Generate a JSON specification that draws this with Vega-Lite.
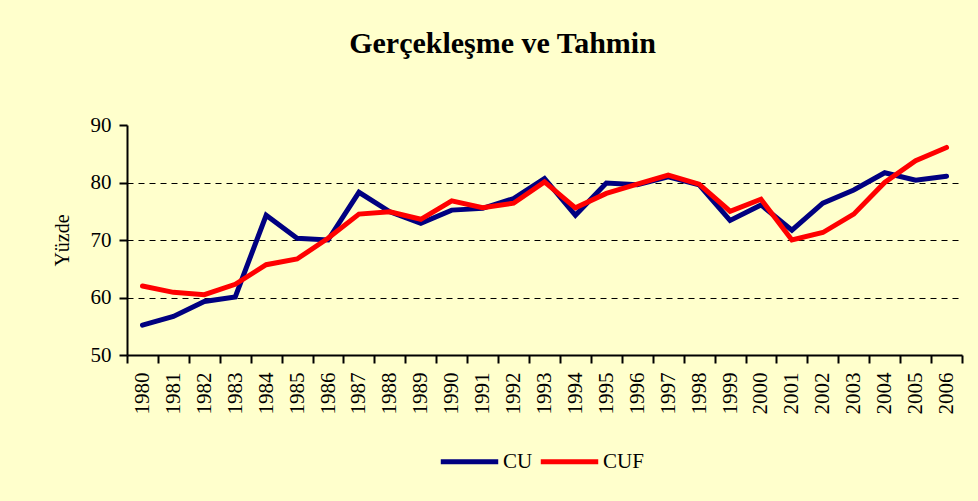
{
  "$schema": "https://vega.github.io/schema/vega-lite/v6.json",
  "width": 835,
  "height": 230,
  "autosize": {"type": "none"},
  "padding": {"left": 127, "top": 125, "right": 16, "bottom": 146},
  "background": "#FFFFCC",
  "title": {
    "text": "Gerçekleşme ve Tahmin",
    "font": "Liberation Serif",
    "fontSize": 30,
    "fontWeight": "bold",
    "color": "#000000",
    "anchor": "middle",
    "dx": -42,
    "offset": 55
  },
  "config": {
    "view": {"stroke": null},
    "axis": {
      "labelFont": "Liberation Serif",
      "titleFont": "Liberation Serif",
      "labelColor": "#000000",
      "titleColor": "#000000",
      "domainColor": "#000000",
      "tickColor": "#000000"
    }
  },
  "data": {
    "values": [
      {"year": "1980", "series": "CU", "value": 55.2},
      {"year": "1981", "series": "CU", "value": 56.7},
      {"year": "1982", "series": "CU", "value": 59.3},
      {"year": "1983", "series": "CU", "value": 60.1},
      {"year": "1984", "series": "CU", "value": 74.3},
      {"year": "1985", "series": "CU", "value": 70.3},
      {"year": "1986", "series": "CU", "value": 70.0},
      {"year": "1987", "series": "CU", "value": 78.3},
      {"year": "1988", "series": "CU", "value": 74.9},
      {"year": "1989", "series": "CU", "value": 72.9},
      {"year": "1990", "series": "CU", "value": 75.2},
      {"year": "1991", "series": "CU", "value": 75.5},
      {"year": "1992", "series": "CU", "value": 77.2},
      {"year": "1993", "series": "CU", "value": 80.7},
      {"year": "1994", "series": "CU", "value": 74.3},
      {"year": "1995", "series": "CU", "value": 79.9},
      {"year": "1996", "series": "CU", "value": 79.6},
      {"year": "1997", "series": "CU", "value": 81.0},
      {"year": "1998", "series": "CU", "value": 79.6},
      {"year": "1999", "series": "CU", "value": 73.4},
      {"year": "2000", "series": "CU", "value": 76.1},
      {"year": "2001", "series": "CU", "value": 71.7},
      {"year": "2002", "series": "CU", "value": 76.4},
      {"year": "2003", "series": "CU", "value": 78.7},
      {"year": "2004", "series": "CU", "value": 81.7},
      {"year": "2005", "series": "CU", "value": 80.4},
      {"year": "2006", "series": "CU", "value": 81.1},
      {"year": "1980", "series": "CUF", "value": 62.0},
      {"year": "1981", "series": "CUF", "value": 60.9},
      {"year": "1982", "series": "CUF", "value": 60.5},
      {"year": "1983", "series": "CUF", "value": 62.3},
      {"year": "1984", "series": "CUF", "value": 65.7},
      {"year": "1985", "series": "CUF", "value": 66.7},
      {"year": "1986", "series": "CUF", "value": 70.3},
      {"year": "1987", "series": "CUF", "value": 74.5},
      {"year": "1988", "series": "CUF", "value": 74.9},
      {"year": "1989", "series": "CUF", "value": 73.6},
      {"year": "1990", "series": "CUF", "value": 76.8},
      {"year": "1991", "series": "CUF", "value": 75.6},
      {"year": "1992", "series": "CUF", "value": 76.4},
      {"year": "1993", "series": "CUF", "value": 80.1},
      {"year": "1994", "series": "CUF", "value": 75.6},
      {"year": "1995", "series": "CUF", "value": 78.1},
      {"year": "1996", "series": "CUF", "value": 79.7},
      {"year": "1997", "series": "CUF", "value": 81.3},
      {"year": "1998", "series": "CUF", "value": 79.7},
      {"year": "1999", "series": "CUF", "value": 75.0},
      {"year": "2000", "series": "CUF", "value": 77.1},
      {"year": "2001", "series": "CUF", "value": 70.0},
      {"year": "2002", "series": "CUF", "value": 71.3},
      {"year": "2003", "series": "CUF", "value": 74.5},
      {"year": "2004", "series": "CUF", "value": 80.0},
      {"year": "2005", "series": "CUF", "value": 83.8},
      {"year": "2006", "series": "CUF", "value": 86.1}
    ]
  },
  "mark": {"type": "line", "strokeWidth": 5, "strokeCap": "round", "strokeJoin": "miter"},
  "encoding": {
    "x": {
      "field": "year",
      "type": "ordinal",
      "scale": {"type": "band", "paddingInner": 0, "paddingOuter": 0},
      "axis": {
        "title": null,
        "labelAngle": -90,
        "labelAlign": "right",
        "labelBaseline": "middle",
        "labelFontSize": 21,
        "labelPadding": 9,
        "tickBand": "extent",
        "tickSize": 8,
        "tickWidth": 2,
        "domainWidth": 2,
        "grid": false
      }
    },
    "y": {
      "field": "value",
      "type": "quantitative",
      "scale": {"domain": [50, 90], "nice": false, "zero": false},
      "axis": {
        "title": "Yüzde",
        "titleFontSize": 20,
        "titleFontWeight": "normal",
        "titlePadding": 18,
        "values": [50, 60, 70, 80, 90],
        "labelFontSize": 21,
        "labelPadding": 8,
        "tickSize": 8,
        "tickWidth": 2,
        "domainWidth": 2,
        "grid": true,
        "gridColor": "#000000",
        "gridDash": [6, 5],
        "gridWidth": 1,
        "gridOpacity": {"condition": {"test": "datum.value === 60 || datum.value === 70 || datum.value === 80", "value": 1}, "value": 0}
      }
    },
    "color": {
      "field": "series",
      "type": "nominal",
      "scale": {"domain": ["CU", "CUF"], "range": ["#000080", "#FF0000"]},
      "legend": {
        "title": null,
        "orient": "none",
        "direction": "horizontal",
        "legendX": 311,
        "legendY": 305,
        "symbolType": "stroke",
        "symbolSize": 3300,
        "symbolStrokeWidth": 5,
        "labelFont": "Liberation Serif",
        "labelFontSize": 21,
        "labelColor": "#000000",
        "labelOffset": 2,
        "columnPadding": -3,
        "symbolOffset": 0
      }
    }
  }
}
